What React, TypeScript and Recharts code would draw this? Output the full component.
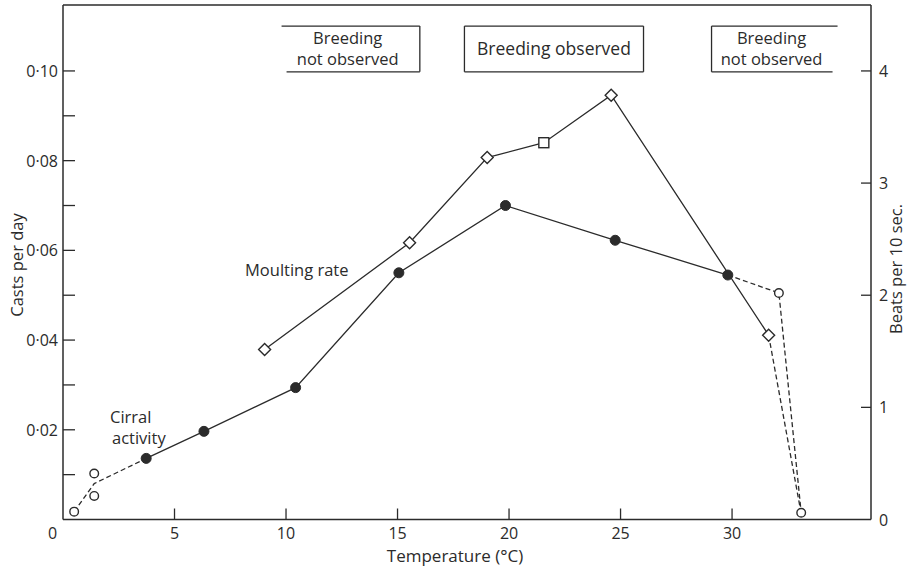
import React from 'react';
import { ComposedChart, Line, XAxis, YAxis, ReferenceArea, ReferenceLine } from 'recharts';

// Temperature ticks (°C)
const xTicks = [0, 5, 10, 15, 20, 25, 30];
// Casts per day (left axis)
const leftTicks = [0.01, 0.02, 0.03, 0.04, 0.05, 0.06, 0.07, 0.08, 0.09, 0.1];
const leftTickLabels = ['', '0·02', '', '0·04', '', '0·06', '', '0·08', '', '0·10'];
// Beats per 10 sec. (right axis)
const rightTicks = [0, 1, 2, 3, 4];

// Cirral activity (beats per 10 sec.)
const cirralLowOpen = [
  { t: 0.5, y: 0.07 },
  { t: 1.4, y: 0.21 },
  { t: 1.4, y: 0.41 },
];
const cirralLowLink = [
  { t: 0.5, y: 0.07 },
  { t: 1.4, y: 0.32 },
  { t: 3.73, y: 0.545 },
];
const cirralFilled = [
  { t: 3.73, y: 0.545 },
  { t: 6.32, y: 0.786 },
  { t: 10.43, y: 1.176 },
  { t: 15.06, y: 2.2 },
  { t: 19.84, y: 2.8 },
  { t: 24.76, y: 2.49 },
  { t: 29.81, y: 2.18 },
];
const cirralHighOpen = [
  { t: 32.1, y: 2.02 },
  { t: 33.1, y: 0.06 },
];

// Moulting rate (casts per day)
const moultDiamonds = [
  { t: 9.04, y: 0.0379 },
  { t: 15.54, y: 0.0617 },
  { t: 19.02, y: 0.0807 },
  { t: 24.58, y: 0.0946 },
  { t: 31.64, y: 0.0411 },
];
const moultSquares = [{ t: 21.56, y: 0.084 }];
const moultEnd = [{ t: 33.1, y: 0.0013 }];

// Breeding ranges (°C)
const breedingRanges = [
  { x1: 9.8, x2: 16.0, lines: ['Breeding', 'not observed'], open: 'left' },
  { x1: 18.0, x2: 26.03, lines: ['Breeding observed'], open: 'none' },
  { x1: 29.08, x2: 34.73, lines: ['Breeding', 'not observed'], open: 'right' },
];
const breedingY = [0.0998, 0.11];

const cirralHighLink = [cirralFilled[cirralFilled.length - 1], ...cirralHighOpen];
const moultLine = [...moultDiamonds, ...moultSquares].sort((a, b) => a.t - b.t);
const moultDash = [moultDiamonds[moultDiamonds.length - 1], ...moultEnd];

const INK = '#2b2b2b';
const FONT = '"Open Sans", sans-serif';

const XTick = (props: any) => {
  const { x, y, payload } = props;
  const v = payload.value;
  return (
    <g>
      {v !== 0 && <line x1={x} x2={x} y1={y} y2={y - 11} stroke={INK} strokeWidth={1.3} />}
      <text x={v === 0 ? x - 10.5 : x} y={y + 19.5} textAnchor="middle" fontSize={16} fontFamily={FONT} fill={INK}>
        {String(v)}
      </text>
    </g>
  );
};

const LeftTick = (props: any) => {
  const { x, y, index } = props;
  const label = leftTickLabels[index] ?? '';
  return (
    <g>
      <line x1={x} x2={x + 12} y1={y} y2={y} stroke={INK} strokeWidth={1.3} />
      {label && (
        <text x={x - 5} y={y + 6} textAnchor="end" fontSize={16} fontFamily={FONT} fill={INK}>
          {label}
        </text>
      )}
    </g>
  );
};

const RightTick = (props: any) => {
  const { x, y, payload } = props;
  return (
    <g>
      {payload.value !== 0 && <line x1={x - 10} x2={x} y1={y} y2={y} stroke={INK} strokeWidth={1.3} />}
      <text x={x + 8} y={y + 6} textAnchor="start" fontSize={16} fontFamily={FONT} fill={INK}>
        {String(payload.value)}
      </text>
    </g>
  );
};

const filledDot = (p: any) => <circle key={`f${p.index}`} cx={p.cx} cy={p.cy} r={5} fill={INK} stroke={INK} />;
const openDot = (p: any) => (
  <circle key={`o${p.index}`} cx={p.cx} cy={p.cy} r={4.3} fill="#fff" stroke={INK} strokeWidth={1.4} />
);
const diamondDot = (p: any) => {
  const s = 6;
  return (
    <path
      key={`d${p.index}`}
      d={`M${p.cx},${p.cy - s}L${p.cx + s},${p.cy}L${p.cx},${p.cy + s}L${p.cx - s},${p.cy}Z`}
      fill="#fff"
      stroke={INK}
      strokeWidth={1.4}
    />
  );
};
const squareDot = (p: any) => (
  <rect key={`s${p.index}`} x={p.cx - 5} y={p.cy - 5} width={10} height={10} fill="#fff" stroke={INK} strokeWidth={1.4} />
);

const makeBoxShape = (lines: string[], open: string) => (props: any) => {
  const { x, y, width, height } = props;
  const x2 = x + width;
  const y2 = y + height;
  const cx = x + width / 2;
  const cy = y + height / 2;
  return (
    <g>
      <line x1={x} x2={x2} y1={y} y2={y} stroke={INK} strokeWidth={1.3} />
      <line x1={open === 'left' ? x + 5 : x} x2={open === 'right' ? x2 - 5 : x2} y1={y2} y2={y2} stroke={INK} strokeWidth={1.3} />
      {open !== 'left' && <line x1={x} x2={x} y1={y} y2={y2} stroke={INK} strokeWidth={1.3} />}
      {open !== 'right' && <line x1={x2} x2={x2} y1={y} y2={y2} stroke={INK} strokeWidth={1.3} />}
      {lines.length === 1 ? (
        <text x={cx} y={cy + 6} textAnchor="middle" fontSize={17.5} fontFamily={FONT} fill={INK}>
          {lines[0]}
        </text>
      ) : (
        lines.map((l, i) => (
          <text key={i} x={cx - 3} y={cy - 5 + i * 21} textAnchor="middle" fontSize={16.5} fontFamily={FONT} fill={INK}>
            {l}
          </text>
        ))
      )}
    </g>
  );
};

export default function App() {
  return (
    <div style={{ position: 'absolute', left: 0, top: 0, width: 912, height: 569, background: '#fff' }}>
      <ComposedChart width={912} height={569} margin={{ top: 5, right: 0, bottom: 0, left: 0 }}>
        <XAxis
          dataKey="t"
          type="number"
          domain={[0, 36.23]}
          allowDataOverflow
          ticks={xTicks}
          tick={<XTick />}
          tickLine={false}
          tickSize={0}
          tickMargin={0}
          height={49.5}
          axisLine={{ stroke: INK, strokeWidth: 1.5 }}
          label={() => (
            <text x={455} y={562} textAnchor="middle" fontSize={17} fontFamily={FONT} fill={INK}>
              Temperature (°C)
            </text>
          )}
        />
        <YAxis
          yAxisId="left"
          type="number"
          domain={[0, 0.1147]}
          allowDataOverflow
          ticks={leftTicks}
          tick={<LeftTick />}
          tickLine={false}
          tickSize={0}
          tickMargin={0}
          width={63}
          interval={0}
          axisLine={{ stroke: INK, strokeWidth: 1.5 }}
          label={() => (
            <text x={23} y={265} transform="rotate(-90 23 265)" textAnchor="middle" fontSize={16.5} fontFamily={FONT} fill={INK}>
              Casts per day
            </text>
          )}
        />
        <YAxis
          yAxisId="right"
          orientation="right"
          type="number"
          domain={[0, 4.588]}
          allowDataOverflow
          ticks={rightTicks}
          tick={<RightTick />}
          tickLine={false}
          tickSize={0}
          tickMargin={0}
          width={41}
          interval={0}
          axisLine={{ stroke: INK, strokeWidth: 1.5 }}
          label={() => (
            <text x={902} y={269} transform="rotate(-90 902 269)" textAnchor="middle" fontSize={16.5} fontFamily={FONT} fill={INK}>
              Beats per 10 sec.
            </text>
          )}
        />
        <ReferenceLine yAxisId="left" y={0.1147} stroke={INK} strokeWidth={1.5} ifOverflow="visible" />
        {breedingRanges.map((r, i) => (
          <ReferenceArea
            key={i}
            yAxisId="left"
            x1={r.x1}
            x2={r.x2}
            y1={breedingY[0]}
            y2={breedingY[1]}
            ifOverflow="visible"
            shape={makeBoxShape(r.lines, r.open)}
          />
        ))}

        <Line yAxisId="right" data={cirralLowLink} dataKey="y" stroke={INK} strokeWidth={1.3} strokeDasharray="5 3" dot={false} isAnimationActive={false} />
        <Line yAxisId="right" data={cirralFilled} dataKey="y" stroke={INK} strokeWidth={1.3} dot={false} isAnimationActive={false} />
        <Line yAxisId="right" data={cirralHighLink} dataKey="y" stroke={INK} strokeWidth={1.3} strokeDasharray="5 3" dot={false} isAnimationActive={false} />
        <Line yAxisId="left" data={moultLine} dataKey="y" stroke={INK} strokeWidth={1.3} dot={false} isAnimationActive={false} />
        <Line yAxisId="left" data={moultDash} dataKey="y" stroke={INK} strokeWidth={1.3} strokeDasharray="5 3" dot={false} isAnimationActive={false} />

        <Line yAxisId="right" data={cirralFilled} dataKey="y" stroke="none" dot={filledDot} isAnimationActive={false} />
        <Line yAxisId="right" data={cirralLowOpen} dataKey="y" stroke="none" dot={openDot} isAnimationActive={false} />
        <Line yAxisId="right" data={cirralHighOpen} dataKey="y" stroke="none" dot={openDot} isAnimationActive={false} />
        <Line yAxisId="left" data={moultDiamonds} dataKey="y" stroke="none" dot={diamondDot} isAnimationActive={false} />
        <Line yAxisId="left" data={moultSquares} dataKey="y" stroke="none" dot={squareDot} isAnimationActive={false} />
      </ComposedChart>
      <svg width={912} height={569} style={{ position: 'absolute', left: 0, top: 0, pointerEvents: 'none' }}>
        <text x={245} y={276} fontSize={16.5} fontFamily={FONT} fill={INK}>Moulting rate</text>
        <text x={110} y={423} fontSize={16.5} fontFamily={FONT} fill={INK}>Cirral</text>
        <text x={112} y={444} fontSize={16.5} fontFamily={FONT} fill={INK}>activity</text>
      </svg>
    </div>
  );
}
